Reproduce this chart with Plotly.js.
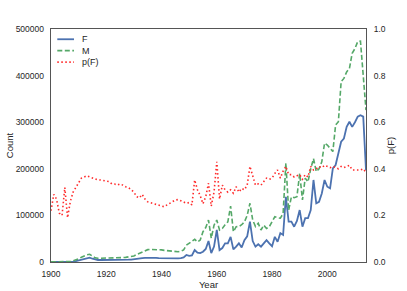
<!DOCTYPE html>
<html>
<head>
<meta charset="utf-8">
<script src="https://cdn.plot.ly/plotly-3.0.1.min.js"></script>
<style>html,body{margin:0;padding:0;background:#fff;}#chart{width:407px;height:291px;}</style>
</head>
<body>
<div id="chart"></div>
<script>
const startYear = 1900;
const seriesNames = ['F', 'M', 'p(F)'];
const countF = [
  100,150,150,150,150,250,150,300,1000,2000,
  3500,5500,7500,9000,9300,7000,5000,4300,4300,4200,
  4200,4200,4200,4300,4300,4500,4700,4800,5000,5300,
  5700,6300,7000,8500,9000,9300,9300,9000,8800,8500,
  8300,7800,7900,7900,7800,7800,7800,8500,10000,15000,
  13000,14000,25700,20000,19000,22000,28000,45000,19000,33000,
  68700,25700,30000,40000,40000,54000,27000,33000,40000,31000,
  47000,55000,86500,45000,33000,38000,33000,40000,47000,40000,
  34000,54000,43500,62000,58000,140000,86500,86500,75700,88000,
  111500,75700,94000,94000,111500,176000,126000,129000,147000,176000,
  161500,158000,201000,208000,235000,258000,265000,290000,301000,290000,
  300000,312000,315000,312000,197000
];
const countM = [
  400,350,400,550,600,500,650,900,2400,4200,
  7000,10000,13000,15500,16500,12500,9000,8000,8000,8000,
  8000,8000,8200,8500,8500,9000,9500,10000,10500,11500,
  13000,16000,19000,22000,25000,26500,27000,27000,27000,26500,
  26000,25000,24500,24000,23000,22000,22000,23500,26000,36000,
  40000,44000,48700,43000,47000,65000,74000,90000,51000,79000,
  90000,68700,72000,80000,86000,120000,65000,75700,76000,80000,
  86000,100000,126000,90000,76000,83000,68700,79000,72000,75700,
  88000,97000,95000,94000,104000,212000,111000,140000,138000,140000,
  190000,133000,180000,172000,200000,222000,194000,200000,215000,255000,
  251000,244000,237000,294000,301000,387000,394000,408000,415000,448000,
  458000,473000,474000,400000,326000
];
const pF = [
  0.22,0.29,0.27,0.21,0.20,0.32,0.19,0.26,0.30,0.32,
  0.34,0.36,0.365,0.37,0.365,0.36,0.355,0.352,0.352,0.35,
  0.345,0.345,0.335,0.335,0.33,0.335,0.33,0.323,0.32,0.31,
  0.30,0.28,0.275,0.29,0.27,0.258,0.255,0.25,0.248,0.245,
  0.24,0.237,0.245,0.252,0.26,0.266,0.268,0.262,0.258,0.252,
  0.255,0.245,0.352,0.31,0.285,0.25,0.28,0.338,0.24,0.30,
  0.43,0.27,0.33,0.31,0.30,0.31,0.295,0.323,0.30,0.316,
  0.31,0.33,0.41,0.37,0.33,0.335,0.33,0.345,0.36,0.355,
  0.36,0.38,0.395,0.36,0.39,0.41,0.375,0.375,0.365,0.37,
  0.375,0.355,0.375,0.365,0.41,0.395,0.40,0.41,0.405,0.415,
  0.41,0.405,0.41,0.405,0.40,0.41,0.405,0.41,0.415,0.395,
  0.395,0.395,0.395,0.40,0.385
];
const years = countF.map((_, i) => startYear + i);

const styles = [
  {color: '#4C72B0', width: 1.8, dash: 'solid'},
  {color: '#55A868', width: 1.6, dash: '5px,2.5px'},
  {color: '#FF2A2A', width: 1.6, dash: '1.5px,2.5px'}
];
const traces = [
  {x: years, y: countF, name: seriesNames[0], type: 'scatter', mode: 'lines', line: styles[0]},
  {x: years, y: countM, name: seriesNames[1], type: 'scatter', mode: 'lines', line: styles[1]},
  {x: years, y: pF, name: seriesNames[2], type: 'scatter', mode: 'lines', yaxis: 'y2', line: styles[2]}
];

// compact legend (upper left, inside the axes)
const legendY = [0.956, 0.907, 0.858];
const shapes = [], annotations = [];
seriesNames.forEach((nm, i) => {
  shapes.push({type: 'line', xref: 'paper', yref: 'paper', x0: 0.02, x1: 0.073,
               y0: legendY[i], y1: legendY[i], line: styles[i]});
  annotations.push({xref: 'paper', yref: 'paper', x: 0.092, y: legendY[i],
                    xanchor: 'left', yanchor: 'middle', text: nm, showarrow: false,
                    font: {family: 'Liberation Sans, Arial, sans-serif', size: 9, color: '#262626'}});
});

const tickFont = {family: 'Liberation Sans, Arial, sans-serif', size: 8.5, color: '#262626'};
const titleFont = {family: 'Liberation Sans, Arial, sans-serif', size: 9.5, color: '#262626'};
const layout = {
  width: 407, height: 291,
  margin: {l: 51, r: 41, t: 29, b: 29, pad: 0},
  paper_bgcolor: '#fff', plot_bgcolor: '#fff',
  showlegend: false,
  shapes: shapes, annotations: annotations,
  xaxis: {range: [1900, 2014], tickvals: [1900, 1920, 1940, 1960, 1980, 2000],
          showgrid: false, zeroline: false, showline: true, mirror: true,
          linecolor: '#555', linewidth: 1.3, ticks: 'outside', ticklen: 3,
          tickcolor: 'rgba(0,0,0,0)', tickfont: tickFont,
          title: {text: 'Year', font: titleFont, standoff: 0}},
  yaxis: {range: [0, 500000], dtick: 100000, tickformat: 'd',
          showgrid: false, zeroline: false, showline: true, mirror: true,
          linecolor: '#555', linewidth: 1.3, ticks: 'outside', ticklen: 4,
          tickcolor: 'rgba(0,0,0,0)', tickfont: tickFont,
          title: {text: 'Count', font: titleFont, standoff: 0}},
  yaxis2: {range: [0, 1], dtick: 0.2, tickformat: '.1f', overlaying: 'y', side: 'right',
           showgrid: false, zeroline: false, showline: false,
           ticks: 'outside', ticklen: 5, tickcolor: 'rgba(0,0,0,0)', tickfont: tickFont,
           title: {text: 'p(F)', font: titleFont, standoff: 2}}
};
Plotly.newPlot('chart', traces, layout, {displayModeBar: false, staticPlot: true});
</script>
</body>
</html>
